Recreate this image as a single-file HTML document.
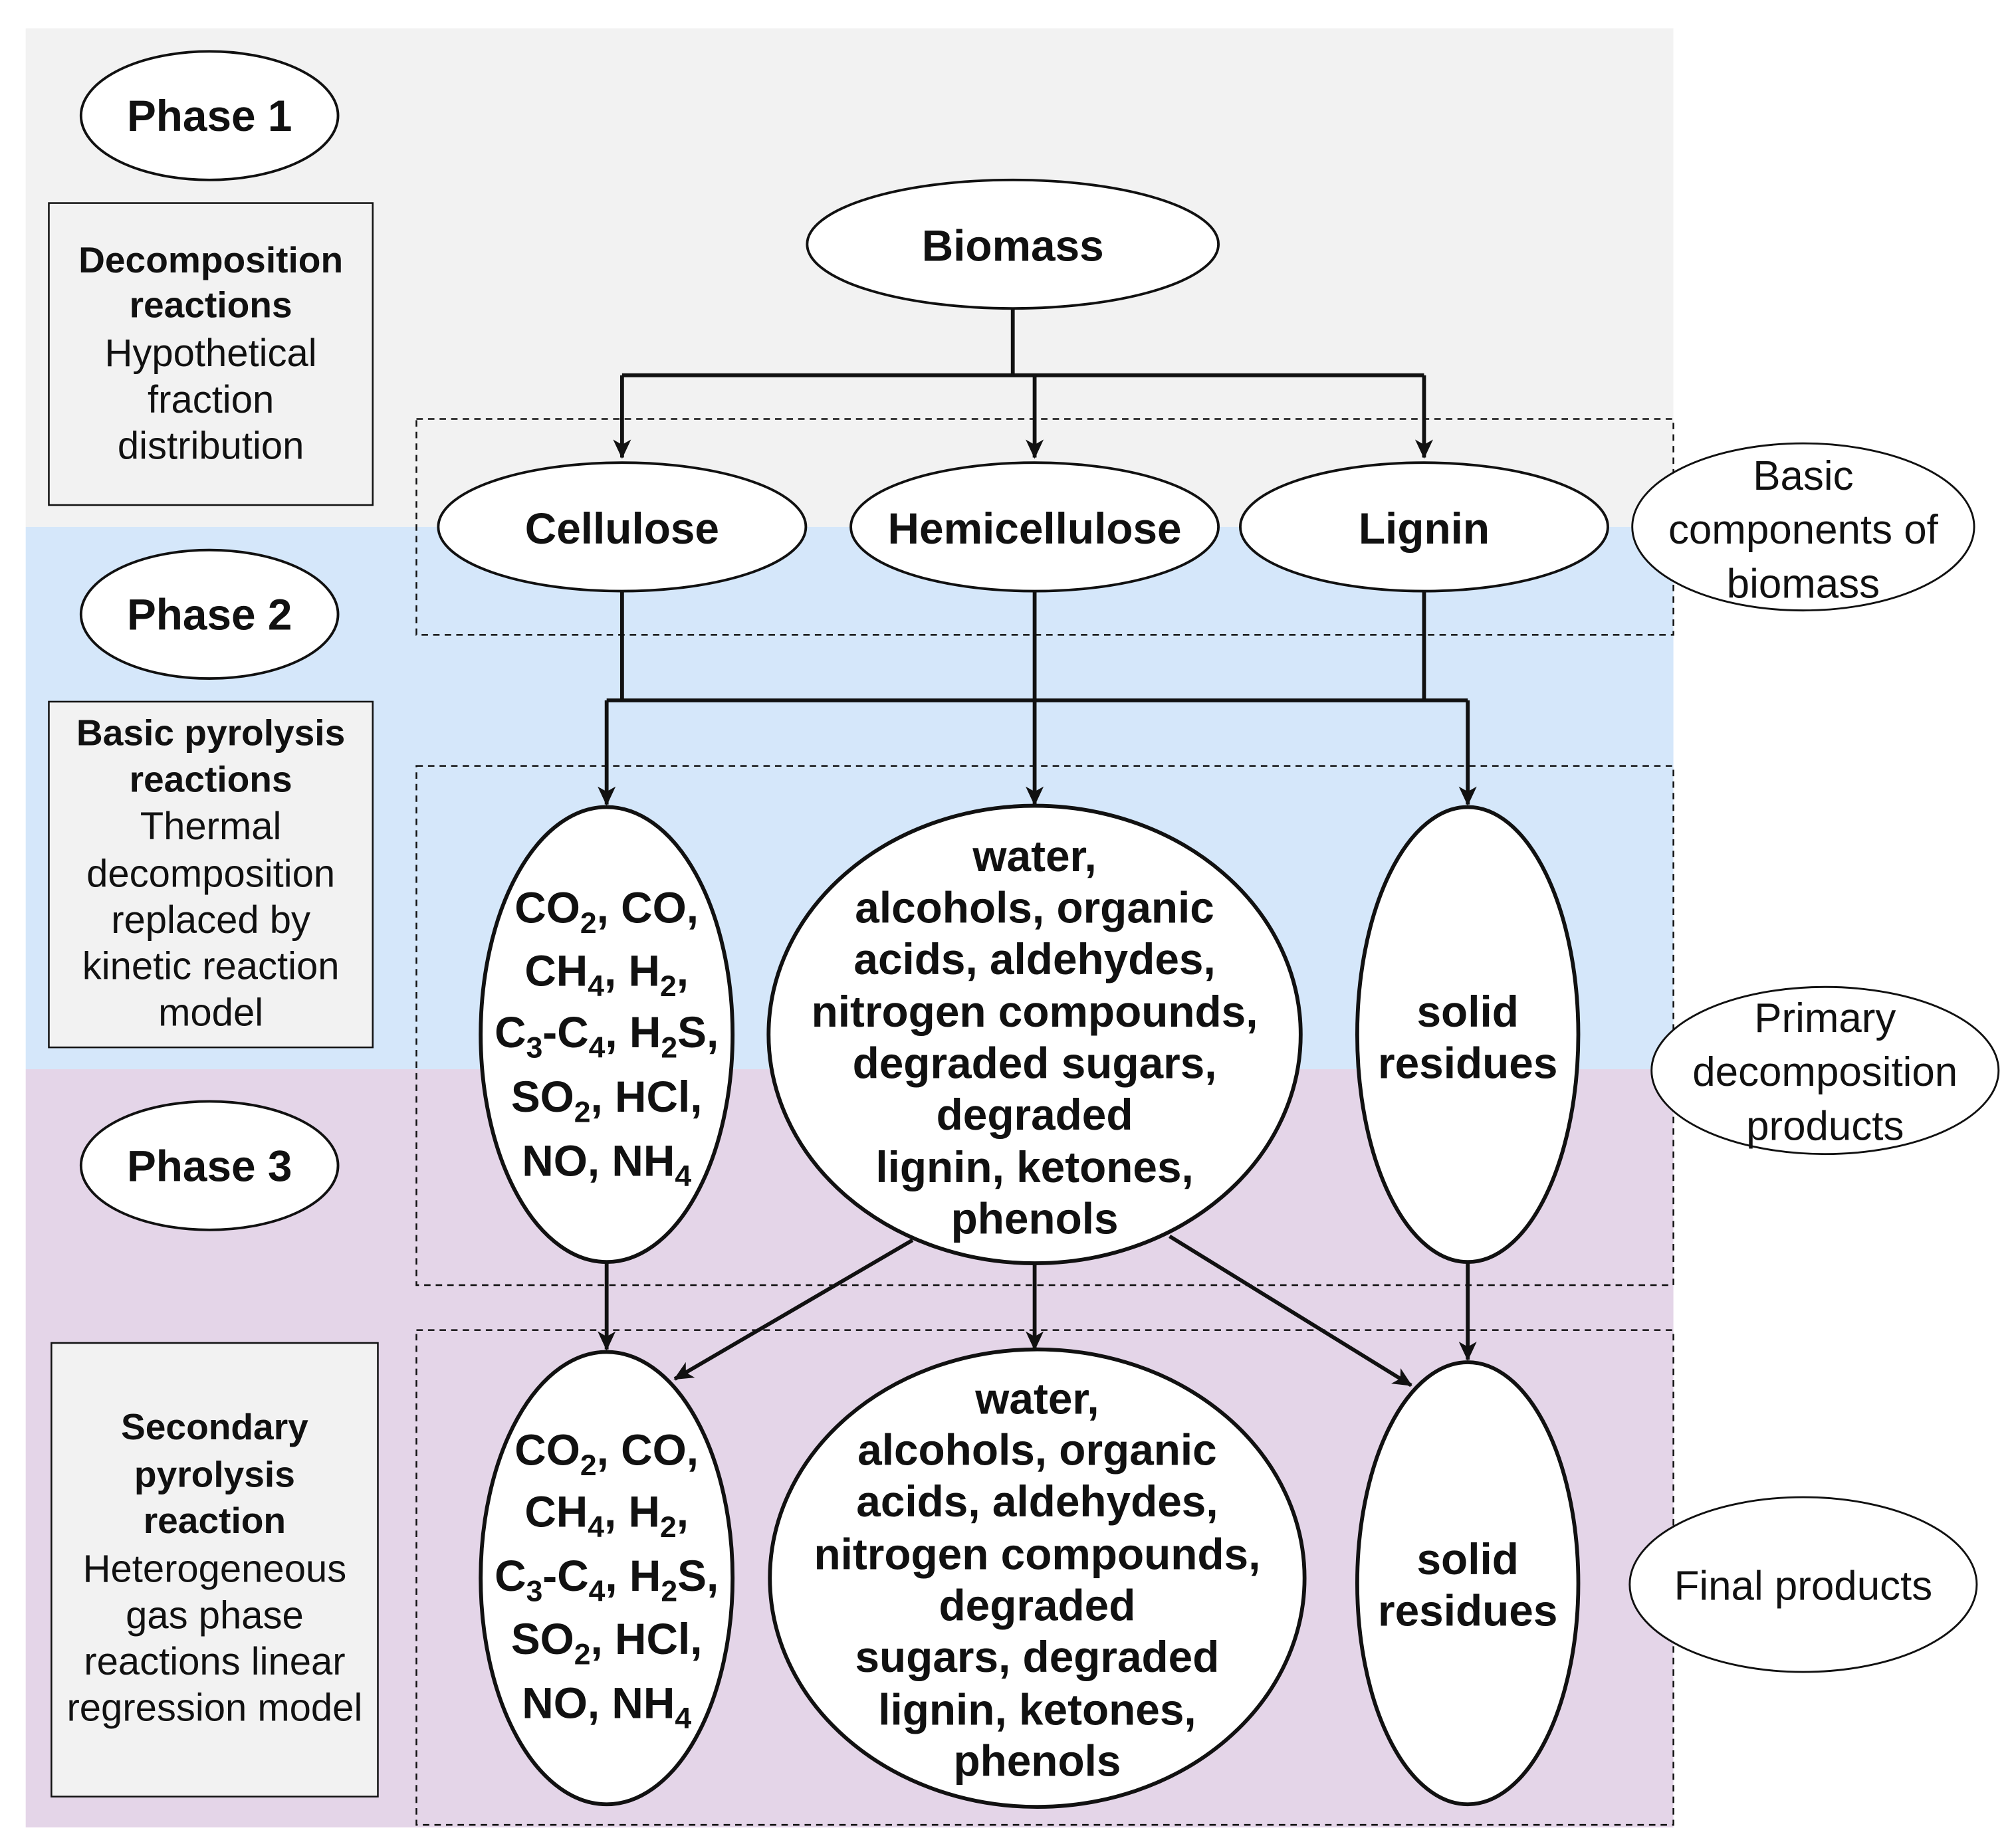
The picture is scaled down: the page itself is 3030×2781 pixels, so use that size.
<!DOCTYPE html>
<html><head><meta charset="utf-8"><style>
html,body{margin:0;padding:0;background:#fff;}
svg{display:block;}
text{font-family:"Liberation Sans",Arial,sans-serif;fill:#111;}
.b{font-weight:bold;font-size:34px;}
.n{font-size:30px;}
.r{font-size:32px;}
.bb{font-weight:bold;font-size:28.5px;}
</style></head><body>
<svg width="3030" height="2781" viewBox="0 0 1567 1438" preserveAspectRatio="none" xmlns="http://www.w3.org/2000/svg">
<defs>
<marker id="ar" markerWidth="16" markerHeight="16" refX="14" refY="8" orient="auto" markerUnits="userSpaceOnUse"><path d="M0,1 L15,8 L0,15 L4,8 Z" fill="#111"/></marker></defs>
<rect width="1567" height="1438" fill="#fff"/>
<rect x="20" y="22" width="1282" height="388" fill="#f2f2f2"/>
<rect x="20" y="410" width="1282" height="422" fill="#d5e7fa"/>
<rect x="20" y="832" width="1282" height="590" fill="#e4d5e8"/>
<g stroke="#111" stroke-width="1.3" fill="none" stroke-dasharray="5,4">
<rect x="324" y="326" width="978" height="168"/>
<rect x="324" y="596" width="978" height="404"/>
<rect x="324" y="1035" width="978" height="385"/>
</g>
<g fill="#fff" stroke="#111" stroke-width="2">
<ellipse cx="163" cy="90" rx="100" ry="50"/>
<ellipse cx="163" cy="478" rx="100" ry="50"/>
<ellipse cx="163" cy="907" rx="100" ry="50"/>
<ellipse cx="788" cy="190" rx="160" ry="50"/>
<ellipse cx="484" cy="410" rx="143" ry="50"/>
<ellipse cx="805" cy="410" rx="143" ry="50"/>
<ellipse cx="1108" cy="410" rx="143" ry="50"/>
</g>
<g fill="#fff" stroke="#111" stroke-width="1.5">
<ellipse cx="1403" cy="410" rx="133" ry="65"/>
<ellipse cx="1420" cy="833" rx="135" ry="65"/>
<ellipse cx="1403" cy="1233" rx="135" ry="68"/>
</g>
<g fill="#fff" stroke="#111" stroke-width="3">
<ellipse cx="472" cy="805" rx="98" ry="177"/>
<ellipse cx="805" cy="805" rx="207" ry="178"/>
<ellipse cx="1142" cy="805" rx="86" ry="177"/>
<ellipse cx="472" cy="1228" rx="98" ry="176"/>
<ellipse cx="807" cy="1228" rx="208" ry="178"/>
<ellipse cx="1142" cy="1232" rx="86" ry="172"/>
</g>
<g fill="#f2f2f2" stroke="#111" stroke-width="1.3">
<rect x="38" y="158" width="252" height="235"/>
<rect x="38" y="546" width="252" height="269"/>
<rect x="40" y="1045" width="254" height="353"/>
</g>
<g stroke="#111" stroke-width="3" fill="none">
<path d="M788 240 V292"/>
<path d="M484 292 H1108"/>
<path d="M484 292 V356" marker-end="url(#ar)"/>
<path d="M805 292 V356" marker-end="url(#ar)"/>
<path d="M1108 292 V356" marker-end="url(#ar)"/>
<path d="M484 460 V545"/>
<path d="M1108 460 V545"/>
<path d="M472 545 H1142"/>
<path d="M805 460 V626" marker-end="url(#ar)"/>
<path d="M472 545 V626" marker-end="url(#ar)"/>
<path d="M1142 545 V626" marker-end="url(#ar)"/>
<path d="M472 982 V1050" marker-end="url(#ar)"/>
<path d="M805 983 V1050" marker-end="url(#ar)"/>
<path d="M1142 982 V1058" marker-end="url(#ar)"/>
<path d="M710 965 L525 1073" marker-end="url(#ar)"/>
<path d="M910 962 L1098 1078" marker-end="url(#ar)"/>
</g>
<g text-anchor="middle">
<text class="b" x="163" y="102">Phase 1</text>
<text class="b" x="163" y="490">Phase 2</text>
<text class="b" x="163" y="919">Phase 3</text>
<text class="b" x="788" y="203">Biomass</text>
<text class="b" x="484" y="423">Cellulose</text>
<text class="b" x="805" y="423">Hemicellulose</text>
<text class="b" x="1108" y="423">Lignin</text>
<text class="r" x="1403" y="381">Basic</text>
<text class="r" x="1403" y="423">components of</text>
<text class="r" x="1403" y="465">biomass</text>
<text class="r" x="1420" y="803">Primary</text>
<text class="r" x="1420" y="845">decomposition</text>
<text class="r" x="1420" y="887">products</text>
<text class="r" x="1403" y="1245">Final products</text>
<text class="bb" x="164" y="212">Decomposition</text>
<text class="bb" x="164" y="247">reactions</text>
<text class="n" x="164" y="285">Hypothetical</text>
<text class="n" x="164" y="321">fraction</text>
<text class="n" x="164" y="357">distribution</text>
<text class="bb" x="164" y="580">Basic pyrolysis</text>
<text class="bb" x="164" y="616">reactions</text>
<text class="n" x="164" y="653">Thermal</text>
<text class="n" x="164" y="690">decomposition</text>
<text class="n" x="164" y="726">replaced by</text>
<text class="n" x="164" y="762">kinetic reaction</text>
<text class="n" x="164" y="798">model</text>
<text class="bb" x="167" y="1120">Secondary</text>
<text class="bb" x="167" y="1157">pyrolysis</text>
<text class="bb" x="167" y="1193">reaction</text>
<text class="n" x="167" y="1231">Heterogeneous</text>
<text class="n" x="167" y="1267">gas phase</text>
<text class="n" x="167" y="1303">reactions linear</text>
<text class="n" x="167" y="1339">regression model</text>
<g class="b">
<text x="472" y="718">CO<tspan font-size="23" dy="8">2</tspan><tspan dy="-8">, CO,</tspan></text>
<text x="472" y="767">CH<tspan font-size="23" dy="8">4</tspan><tspan dy="-8">, H</tspan><tspan font-size="23" dy="8">2</tspan><tspan dy="-8">,</tspan></text>
<text x="472" y="815">C<tspan font-size="23" dy="8">3</tspan><tspan dy="-8">-C</tspan><tspan font-size="23" dy="8">4</tspan><tspan dy="-8">, H</tspan><tspan font-size="23" dy="8">2</tspan><tspan dy="-8">S,</tspan></text>
<text x="472" y="865">SO<tspan font-size="23" dy="8">2</tspan><tspan dy="-8">, HCl,</tspan></text>
<text x="472" y="915">NO, NH<tspan font-size="23" dy="8">4</tspan></text>
<text x="472" y="1140">CO<tspan font-size="23" dy="8">2</tspan><tspan dy="-8">, CO,</tspan></text>
<text x="472" y="1188">CH<tspan font-size="23" dy="8">4</tspan><tspan dy="-8">, H</tspan><tspan font-size="23" dy="8">2</tspan><tspan dy="-8">,</tspan></text>
<text x="472" y="1238">C<tspan font-size="23" dy="8">3</tspan><tspan dy="-8">-C</tspan><tspan font-size="23" dy="8">4</tspan><tspan dy="-8">, H</tspan><tspan font-size="23" dy="8">2</tspan><tspan dy="-8">S,</tspan></text>
<text x="472" y="1287">SO<tspan font-size="23" dy="8">2</tspan><tspan dy="-8">, HCl,</tspan></text>
<text x="472" y="1337">NO, NH<tspan font-size="23" dy="8">4</tspan></text>
<text x="805" y="678">water,</text>
<text x="805" y="718">alcohols, organic</text>
<text x="805" y="758">acids, aldehydes,</text>
<text x="805" y="799">nitrogen compounds,</text>
<text x="805" y="839">degraded sugars,</text>
<text x="805" y="879">degraded</text>
<text x="805" y="920">lignin, ketones,</text>
<text x="805" y="960">phenols</text>
<text x="807" y="1100">water,</text>
<text x="807" y="1140">alcohols, organic</text>
<text x="807" y="1180">acids, aldehydes,</text>
<text x="807" y="1221">nitrogen compounds,</text>
<text x="807" y="1261">degraded</text>
<text x="807" y="1301">sugars, degraded</text>
<text x="807" y="1342">lignin, ketones,</text>
<text x="807" y="1382">phenols</text>
<text x="1142" y="799">solid</text>
<text x="1142" y="839">residues</text>
<text x="1142" y="1225">solid</text>
<text x="1142" y="1265">residues</text>
</g>
</g>
</svg>
</body></html>
